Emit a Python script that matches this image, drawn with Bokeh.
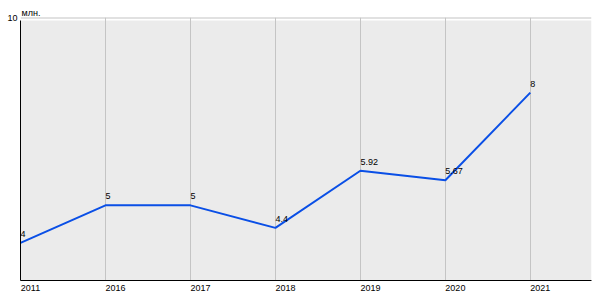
from bokeh.plotting import figure
from bokeh.models import (Range1d, FixedTicker, BoxAnnotation, LinearAxis, Grid,
                          ColumnDataSource, Span)
from bokeh.core.properties import value
from bokeh.embed import file_html
from bokeh.resources import INLINE

years = ["2011", "2016", "2017", "2018", "2019", "2020", "2021"]
values = [4, 5, 5, 4.4, 5.92, 5.67, 8]
value_labels = ["4", "5", "5", "4.4", "5.92", "5.67", "8"]
y_min, y_max = 3, 10
unit = "млн."

idx = list(range(len(years)))
src = ColumnDataSource(dict(x=idx, y=values, t=value_labels))

FONT = "Liberation Sans"
X_END = 6.72
LBL_SHIFT = 0.118  # shifts centred tick labels so they start at the tick

p = figure(width=600, height=300, output_backend="svg", toolbar_location=None,
           x_range=Range1d(0, X_END), y_range=Range1d(y_min, y_max),
           x_axis_location=None, y_axis_location=None,
           min_border_left=20, min_border_right=9, min_border_top=17, min_border_bottom=20)
p.background_fill_color = "white"
p.border_fill_color = "white"
p.outline_line_color = None
p.grid.visible = False

p.title.text = unit
p.title.align = "left"
p.title.offset = 1
p.title.standoff = 0
p.title.text_line_height = 1.6
p.title.text_font = FONT
p.title.text_font_size = "9px"
p.title.text_font_style = "normal"
p.title.text_color = "black"

p.add_layout(BoxAnnotation(top=y_max - 0.08, fill_color="#ebebeb", fill_alpha=1,
                           line_color=None, level="image"))
p.add_layout(Span(location=y_max, dimension="width", line_color="#c4c4c4", line_width=2))

p.extra_x_ranges = {"lab": Range1d(-LBL_SHIFT, X_END - LBL_SHIFT)}
xaxis = LinearAxis(x_range_name="lab", ticker=FixedTicker(ticks=idx),
                   major_label_overrides={i: y for i, y in enumerate(years)})
xaxis.major_label_text_font = FONT
xaxis.major_label_text_font_size = "9px"
xaxis.major_label_text_color = "black"
xaxis.major_label_standoff = 4
xaxis.major_tick_line_color = None
xaxis.major_tick_out = 0
xaxis.minor_tick_line_color = None
xaxis.minor_tick_out = 0
xaxis.axis_line_color = "black"
xaxis.axis_line_width = 1
p.add_layout(xaxis, "below")

yaxis = LinearAxis(ticker=FixedTicker(ticks=[y_max]))
yaxis.major_label_text_font = FONT
yaxis.major_label_text_font_size = "9px"
yaxis.major_label_text_color = "black"
yaxis.major_label_standoff = 3
yaxis.major_tick_line_color = None
yaxis.major_tick_out = 0
yaxis.minor_tick_line_color = None
yaxis.minor_tick_out = 0
yaxis.axis_line_color = "black"
yaxis.axis_line_width = 1
yaxis.bounds = (y_min, y_max - 0.08)
p.add_layout(yaxis, "left")

p.add_layout(Grid(dimension=0, ticker=FixedTicker(ticks=idx[1:]),
                  grid_line_color="#c4c4c4", grid_line_width=1))

p.line("x", "y", source=src, line_color="#0a4fe6", line_width=2)
p.text("x", "y", text="t", source=src, text_font=value(FONT), text_font_size="9px",
       text_color="black", text_align="left", text_baseline="bottom", x_offset=0, y_offset=-6)

open("out.html", "w").write(file_html(p, INLINE))
